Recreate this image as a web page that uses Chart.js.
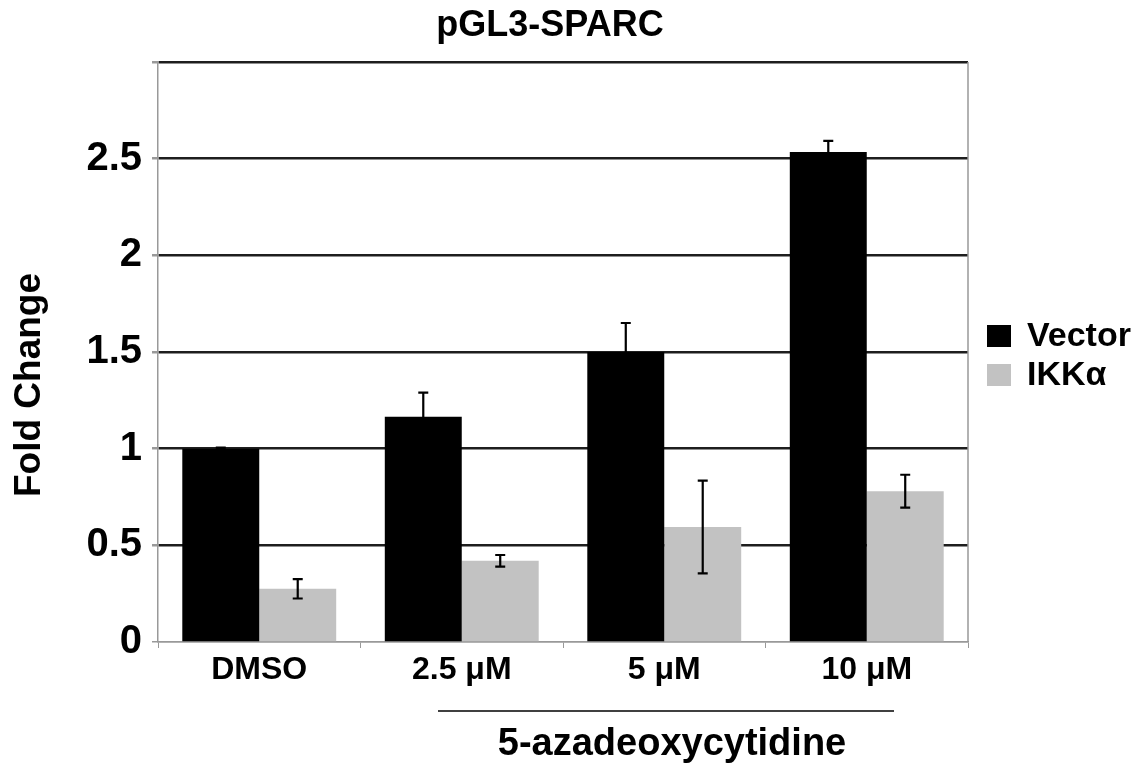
<!DOCTYPE html>
<html>
<head>
<meta charset="utf-8">
<script src="https://cdn.jsdelivr.net/npm/chart.js@4.4.0/dist/chart.umd.min.js"></script>
<style>
  body { margin: 0; background: #fff; }
  #wrap { width: 1139px; height: 774px; }
</style>
</head>
<body>
<div id="wrap"><canvas id="chart" width="1139" height="774"></canvas></div>
<script>
const categories = ['DMSO', '2.5 μM', '5 μM', '10 μM'];
const vectorValues = [1.0, 1.165, 1.5, 2.535];
const vectorErrors = [0.005, 0.125, 0.15, 0.057];
const ikkValues = [0.275, 0.42, 0.595, 0.78];
const ikkErrors = [0.05, 0.03, 0.24, 0.085];
const yTicks = [0, 0.5, 1, 1.5, 2, 2.5, 3];

const FONT = '"Liberation Sans", Arial, Helvetica, sans-serif';

// error bars drawn on top of each bar
const errorBars = {
    id: 'errorBars',
    afterDatasetsDraw(chart) {
        const ctx = chart.ctx;
        const y = chart.scales.y;
        chart.data.datasets.forEach((ds, i) => {
            const meta = chart.getDatasetMeta(i);
            meta.data.forEach((bar, j) => {
                const v = ds.data[j], e = ds.errors[j];
                const top = y.getPixelForValue(v + e);
                const bot = y.getPixelForValue(v - e);
                ctx.save();
                ctx.strokeStyle = '#000';
                ctx.lineWidth = 2.2;
                ctx.beginPath();
                ctx.moveTo(bar.x, top); ctx.lineTo(bar.x, bot);
                ctx.moveTo(bar.x - 5, top); ctx.lineTo(bar.x + 5, top);
                ctx.moveTo(bar.x - 5, bot); ctx.lineTo(bar.x + 5, bot);
                ctx.stroke();
                ctx.restore();
            });
        });
    }
};

// title, axis title, legend, right border and the drug bracket
const extras = {
    id: 'extras',
    beforeDatasetsDraw(chart) {
        const ctx = chart.ctx, a = chart.chartArea;
        ctx.save();
        ctx.strokeStyle = '#999';
        ctx.lineWidth = 1.5;
        ctx.beginPath();
        ctx.moveTo(a.right, a.top); ctx.lineTo(a.right, a.bottom);
        ctx.stroke();
        ctx.restore();
    },
    afterDraw(chart) {
        const ctx = chart.ctx;
        ctx.save();
        ctx.fillStyle = '#000';
        ctx.textBaseline = 'middle';

        ctx.textAlign = 'center';
        ctx.font = 'bold 36px ' + FONT;
        ctx.fillText('pGL3-SPARC', 550, 26);

        ctx.save();
        ctx.translate(30, 385);
        ctx.rotate(-Math.PI / 2);
        ctx.font = 'bold 37px ' + FONT;
        ctx.fillText('Fold Change', 0, 0);
        ctx.restore();

        // legend
        const names = chart.data.datasets.map(d => d.label);
        const colors = chart.data.datasets.map(d => d.backgroundColor);
        ctx.textAlign = 'left';
        ctx.font = 'bold 34px ' + FONT;
        names.forEach((n, i) => {
            const cy = 336 + i * 39;
            ctx.fillStyle = colors[i];
            ctx.fillRect(987, cy - 11, 24, 22);
            ctx.fillStyle = '#000';
            ctx.fillText(n, 1027, cy + 1);
        });

        ctx.strokeStyle = '#000';
        ctx.lineWidth = 1.5;
        ctx.beginPath();
        ctx.moveTo(438, 711); ctx.lineTo(894, 711);
        ctx.stroke();

        ctx.textAlign = 'center';
        ctx.font = 'bold 38px ' + FONT;
        ctx.fillText('5-azadeoxycytidine', 672, 745);
        ctx.restore();
    }
};

const ctx = document.getElementById('chart').getContext('2d');
const myChart = new Chart(ctx, {
    type: 'bar',
    data: {
        labels: categories,
        datasets: [{
            label: 'Vector',
            data: vectorValues,
            errors: vectorErrors,
            backgroundColor: '#000000'
        }, {
            label: 'IKKα',
            data: ikkValues,
            errors: ikkErrors,
            backgroundColor: '#c2c2c2'
        }]
    },
    options: {
        responsive: false,
        animation: false,
        layout: { padding: { top: 62, right: 171, bottom: 0, left: 0 } },
        datasets: { bar: { categoryPercentage: 0.76, barPercentage: 1 } },
        plugins: {
            legend: { display: false },
            title: { display: false },
            tooltip: { enabled: false }
        },
        scales: {
            x: {
                afterFit: s => { s.height = 132; },
                grid: {
                    offset: true,
                    drawOnChartArea: false,
                    tickLength: 6,
                    tickColor: '#999'
                },
                border: { color: '#999', width: 1.5 },
                ticks: {
                    color: '#000',
                    padding: 3,
                    font: { family: FONT, size: 32, weight: 'bold' }
                }
            },
            y: {
                min: 0,
                max: 3,
                afterFit: s => { s.width = 158; },
                afterBuildTicks: s => { s.ticks = yTicks.map(v => ({ value: v })); },
                grid: {
                    color: c => c.tick && c.tick.value === 0 ? '#999' : '#1e1e1e',
                    lineWidth: c => c.tick && c.tick.value === 0 ? 1.5 : 2.5,
                    tickLength: 6,
                    tickColor: '#999'
                },
                border: { color: '#999', width: 1.5 },
                ticks: {
                    color: '#000',
                    padding: 10,
                    font: { family: FONT, size: 40, weight: 'bold' },
                    callback: v => v === 3 ? '' : v
                }
            }
        }
    },
    plugins: [errorBars, extras]
});
</script>
</body>
</html>
